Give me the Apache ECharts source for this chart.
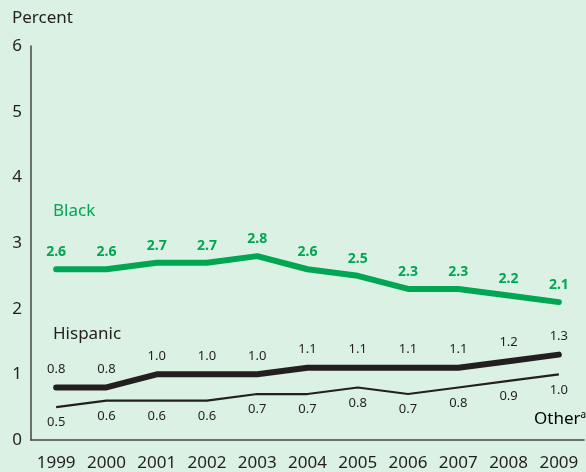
<!DOCTYPE html>
<html><head><meta charset="utf-8">
<script src="https://cdn.jsdelivr.net/npm/echarts@6/dist/echarts.min.js"></script>
<style>html,body{margin:0;padding:0;background:#daf1e4;}#c{width:586px;height:472px;}</style>
</head><body><div id="c"></div>
<script>
const years = ['1999','2000','2001','2002','2003','2004','2005','2006','2007','2008','2009'];
const black = [2.6,2.6,2.7,2.7,2.8,2.6,2.5,2.3,2.3,2.2,2.1];
const hispanic = [0.8,0.8,1.0,1.0,1.0,1.1,1.1,1.1,1.1,1.2,1.3];
const other = [0.5,0.6,0.6,0.6,0.7,0.7,0.8,0.7,0.8,0.9,1.0];
const yTicks = [0,1,2,3,4,5,6];

const FONT = 'Noto Sans';
const chart = echarts.init(document.getElementById('c'));
chart.setOption({
  backgroundColor: '#daf1e4',
  animation: false,
  textStyle: {fontFamily: FONT},
  grid: {left: 31, right: 2, top: 46, bottom: 31},
  xAxis: {
    type: 'category', data: years, boundaryGap: true,
    axisLine: {lineStyle: {color: '#444', width: 1.5}},
    axisTick: {show: false},
    axisLabel: {color: '#231f20', fontSize: 17, margin: 15, interval: 0, fontFamily: FONT}
  },
  yAxis: {
    type: 'value', min: yTicks[0], max: yTicks[yTicks.length-1], interval: 1,
    axisLine: {show: true, lineStyle: {color: '#444', width: 1.5}},
    axisTick: {show: false},
    splitLine: {show: false},
    axisLabel: {color: '#231f20', fontSize: 17, margin: 9, fontFamily: FONT}
  },
  graphic: [
    {type: 'text', left: 12, top: 10, style: {text: 'Percent', fontSize: 17, fill: '#231f20', fontFamily: FONT}},
    {type: 'text', left: 53, top: 203, style: {text: 'Black', fontSize: 17, fill: '#00a651', fontFamily: FONT}},
    {type: 'text', left: 53, top: 326, style: {text: 'Hispanic', fontSize: 17, fill: '#231f20', fontFamily: FONT}},
    {type: 'text', left: 534, top: 410, style: {
      text: '{a|Other}{b|a}', fontFamily: FONT,
      rich: {a: {fontSize: 17, color: '#231f20', fontFamily: FONT},
             b: {fontSize: 10, color: '#231f20', verticalAlign: 'top', padding: [0,0,8,0], fontFamily: FONT}}
    }}
  ],
  series: [
    {name: 'Other', type: 'line', data: other, symbol: 'circle', symbolSize: 0, showSymbol: true,
     itemStyle: {color: '#231f20'},
     lineStyle: {color: '#231f20', width: 2.2},
     label: {show: true, position: 'bottom', distance: 9, color: '#231f20', fontSize: 13, fontFamily: FONT,
             formatter: p => p.value.toFixed(1)}},
    {name: 'Hispanic', type: 'line', data: hispanic, symbol: 'circle', symbolSize: 0, showSymbol: true,
     itemStyle: {color: '#231f20'},
     lineStyle: {color: '#231f20', width: 6, cap: 'round'},
     label: {show: true, position: 'top', distance: 12, color: '#231f20', fontSize: 13, fontFamily: FONT,
             formatter: p => p.value.toFixed(1)}},
    {name: 'Black', type: 'line', data: black, symbol: 'circle', symbolSize: 0, showSymbol: true,
     itemStyle: {color: '#00a651'},
     lineStyle: {color: '#00a651', width: 6, cap: 'round'},
     label: {show: true, position: 'top', distance: 10, color: '#00a651', fontSize: 14, fontWeight: 'bold', fontFamily: FONT,
             formatter: p => p.value.toFixed(1)}}
  ]
});
</script></body></html>
